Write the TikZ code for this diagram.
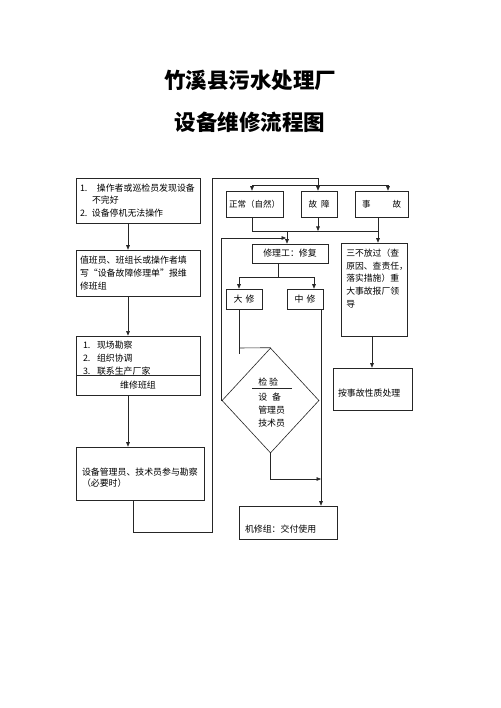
\documentclass[tikz,border=0pt]{standalone}
\usepackage{fontspec}
\setmainfont{Noto Sans CJK SC}
\usetikzlibrary{arrows.meta,shapes.geometric,calc}
\begin{document}
\begin{tikzpicture}[x=1pt,y=-1pt,
  line width=0.6pt, draw=black!85,
  box/.style={draw=black!85, line width=0.6pt, inner sep=0pt, font=\fontsize{8.9pt}{12.8pt}\selectfont},
  txt/.style={inner sep=0pt, font=\fontsize{8.9pt}{12.8pt}\selectfont},
  ttl/.style={inner sep=0pt, font=\fontsize{21.5pt}{24pt}\selectfont\bfseries},
  arr/.style={-{Triangle[length=4.5pt,width=3.6pt]}},
]
\useasboundingbox[fill=white] (0,0) rectangle (500,708);

% titles
\node[ttl] (t1) at (250,80) {竹溪县污水处理厂};
\node[ttl] (t2) at (250,122) {设备维修流程图};

% left column
\node[box, minimum width=124pt, minimum height=45pt, text width=116pt, align=left] (A) at (138,200.5)
  {1.\hspace{9.5pt}操作者或巡检员发现设备\\\hspace{12pt}不完好\\2.\hspace{4.5pt}设备停机无法操作};
\node[box, minimum width=124pt, minimum height=46pt, text width=116pt, align=left] (B) at (138,273)
  {值班员、班组长或操作者填\\写“设备故障修理单”报维\\修班组};
\node[box, minimum width=124pt, minimum height=39pt, text width=110pt, align=left] (C1) at (138,355.5)
  {\rule{0pt}{12.8pt}1.\hspace{6.6pt}现场勘察\\2.\hspace{6.6pt}组织协调\\3.\hspace{6.6pt}联系生产厂家};
\node[box, minimum width=124pt, minimum height=20pt] (C2) at (138,385) {维修班组\hspace{16pt}};
\node[box, minimum width=128pt, minimum height=53pt, text width=116pt, align=left] (D) at (140,473.5)
  {\rule{0pt}{15.8pt}设备管理员、技术员参与勘察\\[-1.2pt]（必要时）};

% top row
\node[box, minimum width=57pt, minimum height=26pt, font=\fontsize{8.5pt}{10pt}\selectfont] (N) at (254.5,204) {正常（自然）};
\node[box, minimum width=36pt, minimum height=26pt, font=\fontsize{8.5pt}{10pt}\selectfont] (G) at (319,204) {故\hspace{4pt}障};
\node[box, minimum width=53pt, minimum height=26pt, font=\fontsize{8.5pt}{10pt}\selectfont] (S) at (381.5,204) {事\hspace{22pt}故};

% repair
\node[box, minimum width=76pt, minimum height=19pt] (R) at (290,253.5) {修理工：修复\hspace{10pt}};
\node[box, minimum width=36pt, minimum height=20pt] (DX) at (244,299) {大\hspace{3pt}修};
\node[box, minimum width=36pt, minimum height=20pt] (ZX) at (305,299) {中\hspace{3pt}修};

% diamond
\node[draw=black!85, diamond, minimum width=97pt, minimum height=105pt, inner sep=0pt] (dia) at (270.5,400.5) {};
\node[txt, anchor=west] (d1) at (258,382) {检\hspace{2pt}验};
\draw (252,388) -- (292,388);
\node[txt, anchor=west] (d2) at (258,397) {设\hspace{5pt}备};
\node[txt, anchor=west] (d3) at (258,410) {管理员};
\node[txt, anchor=west] (d4) at (258,423) {技术员};

% right column
\node[box, minimum width=66pt, minimum height=93pt] (SB) at (374,289.5) {};
\node[txt, anchor=north west, align=left, font=\fontsize{8.8pt}{12.75pt}\selectfont] (SBt) at (346,248.6)
  {三不放过（查\\原因、查责任，\\落实措施）重\\大事故报厂领\\导};
\node[box, minimum width=79pt, minimum height=42pt, text width=69pt, align=left, text height=15.8pt] (AP) at (372.5,389) {按事故性质处理};
\node[box, minimum width=98pt, minimum height=33pt, text width=86pt, align=left, text height=20.8pt] (JX) at (288,522.5) {机修组：交付使用};

% coordinates
\coordinate (c1) at (128,0);
\coordinate (c2) at (133,532);
\coordinate (c3) at (212,532);
\coordinate (c4) at (212,178);
\coordinate (c5) at (318,178);
\coordinate (j1) at (318,185);
\coordinate (jl) at (252,185);
\coordinate (jr) at (388,185);
\coordinate (k1) at (252,231);
\coordinate (k2) at (378,231);
\coordinate (k3) at (287,231);
\coordinate (kg) at (318,231);
\coordinate (m1) at (286,238);
\coordinate (r1) at (278,277);
\coordinate (r2) at (239,277);
\coordinate (r3) at (314,277);
\coordinate (q1) at (239,354);
\coordinate (q2) at (239,348);
\coordinate (p1) at (321,479);
\coordinate (zx) at (321,0);
\coordinate (sx) at (372,0);

% connectors
\draw[arr] (A.south -| c1) -- (B.north -| c1);
\draw[arr] (B.south -| c1) -- (C1.north -| c1);
\draw[arr] (C2.south -| c1) -- (D.north -| c1);
\draw[arr] (D.south -| c2) -- (c2) -- (c3) -- (c4) -- (c5) -- (G.north -| c5);
\draw[arr] (j1) -- (jl) -- (N.north -| jl);
\draw[arr] (j1) -- (jr) -- (S.north -| jr);
\draw (N.south -| k1) -- (k1) -- (k2);
\draw[arr] (G.south -| kg) -- (kg);
\draw[arr] (S.south -| k2) -- (SB.north -| k2);
\draw[arr] (k3) -- (R.north -| k3);
\draw[arr] (dia.west) -- (dia.west |- m1) -- (m1);
\draw (R.south -| r1) -- (r1);
\draw[arr] (r1) -- (r2) -- (DX.north -| r2);
\draw[arr] (r1) -- (r3) -- (ZX.north -| r3);
\draw (DX.south -| q1) -- (q1);
\draw (q2) -- (dia.north);
\draw[arr] (dia.south) -- (dia.south |- p1) -- (p1);
\draw[arr] (ZX.south -| zx) -- (JX.north -| zx);
\draw[arr] (SB.south -| sx) -- (AP.north -| sx);
\end{tikzpicture}
\end{document}
